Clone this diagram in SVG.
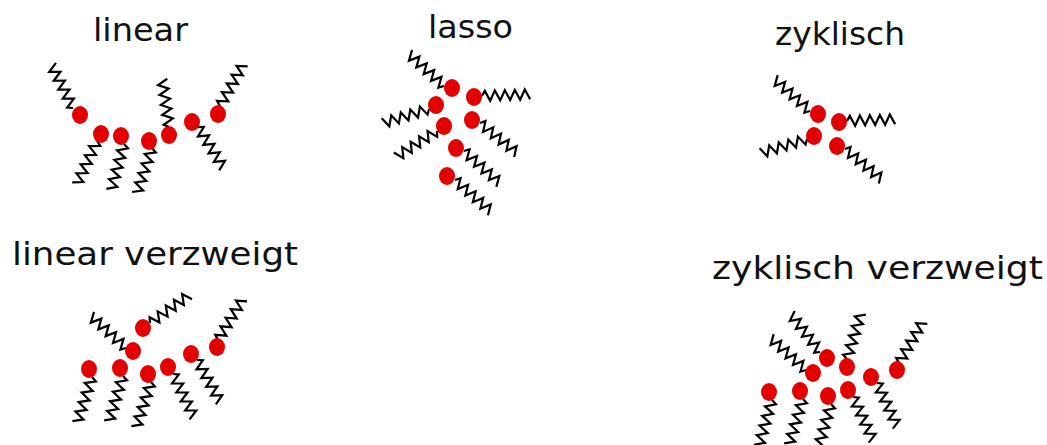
<svg xmlns="http://www.w3.org/2000/svg" xmlns:xlink="http://www.w3.org/1999/xlink" width="1047" height="445" viewBox="0 0 1047 445">
  <style>
    .lbl { font-family: "DejaVu Sans", Verdana, sans-serif; font-size: 32px; fill: #111; }
    .head { fill: #e30000; }
    .tail { fill: none; stroke: #000; stroke-width: 2.2; stroke-linejoin: miter; }
  </style>
  <defs>
    <!-- hydrocarbon tail: zigzag running along +x from the head -->
    <path id="zz" class="tail" d="M0,0 L3,-5 L8,5 L13,-5 L18,5 L23,-5 L28,5 L33,-5 L38,5 L43,-5 L48,5"/>
    <ellipse id="hd" class="head" rx="8" ry="9"/>
  </defs>
  <rect width="1047" height="445" fill="#fff"/>

  <!-- labels -->
  <text class="lbl" x="93" y="41" textLength="95" lengthAdjust="spacingAndGlyphs">linear</text>
  <text class="lbl" x="428" y="38" textLength="85" lengthAdjust="spacingAndGlyphs">lasso</text>
  <text class="lbl" x="775" y="45" textLength="130" lengthAdjust="spacingAndGlyphs">zyklisch</text>
  <text class="lbl" x="12" y="265" textLength="286" lengthAdjust="spacingAndGlyphs">linear verzweigt</text>
  <text class="lbl" x="712" y="279" textLength="331" lengthAdjust="spacingAndGlyphs">zyklisch verzweigt</text>

  <!-- linear -->
  <g id="linear">
    <g id="linear-tails">
      <use xlink:href="#zz" transform="translate(73,108) rotate(-116.6)"/>
      <use xlink:href="#zz" transform="translate(97,141) rotate(115)"/>
      <use xlink:href="#zz" transform="translate(124,144) rotate(105.5)"/>
      <use xlink:href="#zz" transform="translate(152,148) rotate(108.4)"/>
      <use xlink:href="#zz" transform="translate(169,127) rotate(-98)"/>
      <use xlink:href="#zz" transform="translate(198,127) rotate(58)"/>
      <use xlink:href="#zz" transform="translate(220,106) rotate(-61)"/>
    </g>
    <use xlink:href="#hd" x="80" y="115"/>
    <use xlink:href="#hd" x="101" y="134"/>
    <use xlink:href="#hd" x="121" y="136"/>
    <use xlink:href="#hd" x="149" y="141"/>
    <use xlink:href="#hd" x="169" y="135"/>
    <use xlink:href="#hd" x="192" y="122"/>
    <use xlink:href="#hd" x="218" y="114"/>
  </g>

  <!-- lasso -->
  <g id="lasso">
    <g id="lasso-tails">
      <use xlink:href="#zz" transform="translate(444,86) rotate(-137.4)"/>
      <use xlink:href="#zz" transform="translate(482,96) rotate(-2)"/>
      <use xlink:href="#zz" transform="translate(429,109) rotate(163)"/>
      <use xlink:href="#zz" transform="translate(437,131) rotate(147.6)"/>
      <use xlink:href="#zz" transform="translate(480,123) rotate(39)"/>
      <use xlink:href="#zz" transform="translate(464,151) rotate(42)"/>
      <use xlink:href="#zz" transform="translate(455,180) rotate(41)"/>
    </g>
    <use xlink:href="#hd" x="452" y="88"/>
    <use xlink:href="#hd" x="474" y="97"/>
    <use xlink:href="#hd" x="436" y="105"/>
    <use xlink:href="#hd" x="444" y="126"/>
    <use xlink:href="#hd" x="472" y="120"/>
    <use xlink:href="#hd" x="456" y="148"/>
    <use xlink:href="#hd" x="447" y="176"/>
  </g>

  <!-- zyklisch -->
  <g id="zyklisch">
    <g id="zyklisch-tails">
      <use xlink:href="#zz" transform="translate(810,111) rotate(-138)"/>
      <use xlink:href="#zz" transform="translate(847,121) rotate(-2)"/>
      <use xlink:href="#zz" transform="translate(807,139) rotate(163)"/>
      <use xlink:href="#zz" transform="translate(845,149) rotate(39.5)"/>
    </g>
    <use xlink:href="#hd" x="818" y="114"/>
    <use xlink:href="#hd" x="839" y="122"/>
    <use xlink:href="#hd" x="814" y="136"/>
    <use xlink:href="#hd" x="837" y="146"/>
  </g>

  <!-- linear verzweigt -->
  <g id="linear-verzweigt">
    <g id="linear-verzweigt-tails">
      <use xlink:href="#zz" transform="translate(150,323) rotate(-35.5)"/>
      <use xlink:href="#zz" transform="translate(126,348) rotate(-137.5)"/>
      <use xlink:href="#zz" transform="translate(92,377) rotate(108)"/>
      <use xlink:href="#zz" transform="translate(123,376) rotate(107)"/>
      <use xlink:href="#zz" transform="translate(151,382) rotate(108)"/>
      <use xlink:href="#zz" transform="translate(173,374) rotate(64)"/>
      <use xlink:href="#zz" transform="translate(197,360) rotate(61)"/>
      <use xlink:href="#zz" transform="translate(218,340) rotate(-59)"/>
    </g>
    <use xlink:href="#hd" x="143" y="328"/>
    <use xlink:href="#hd" x="133" y="351"/>
    <use xlink:href="#hd" x="89" y="369"/>
    <use xlink:href="#hd" x="120" y="368"/>
    <use xlink:href="#hd" x="148" y="374"/>
    <use xlink:href="#hd" x="168" y="367"/>
    <use xlink:href="#hd" x="191" y="354"/>
    <use xlink:href="#hd" x="217" y="347"/>
  </g>

  <!-- zyklisch verzweigt -->
  <g id="zyklisch-verzweigt">
    <g id="zyklisch-verzweigt-tails">
      <use xlink:href="#zz" transform="translate(820,352) rotate(-127.6)"/>
      <use xlink:href="#zz" transform="translate(847,359) rotate(-73)"/>
      <use xlink:href="#zz" transform="translate(806,370) rotate(-138)"/>
      <use xlink:href="#zz" transform="translate(877,383) rotate(65)"/>
      <use xlink:href="#zz" transform="translate(899,363) rotate(-60)"/>
      <use xlink:href="#zz" transform="translate(772,400) rotate(106)"/>
      <use xlink:href="#zz" transform="translate(803,399) rotate(107)"/>
      <use xlink:href="#zz" transform="translate(831,404) rotate(106)"/>
      <use xlink:href="#zz" transform="translate(853,397) rotate(65)"/>
    </g>
    <use xlink:href="#hd" x="827" y="358"/>
    <use xlink:href="#hd" x="847" y="367"/>
    <use xlink:href="#hd" x="813" y="373"/>
    <use xlink:href="#hd" x="871" y="377"/>
    <use xlink:href="#hd" x="897" y="370"/>
    <use xlink:href="#hd" x="769" y="392"/>
    <use xlink:href="#hd" x="800" y="391"/>
    <use xlink:href="#hd" x="828" y="396"/>
    <use xlink:href="#hd" x="848" y="390"/>
  </g>
</svg>
